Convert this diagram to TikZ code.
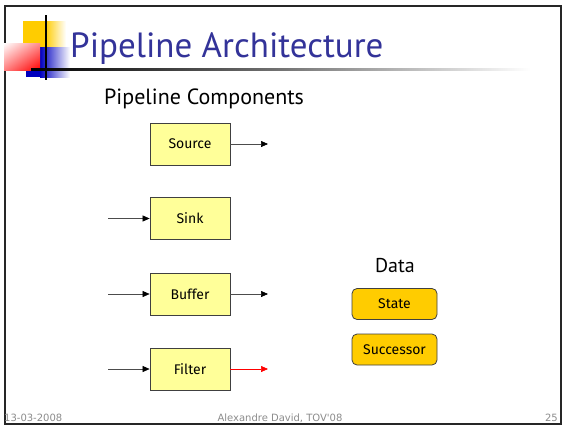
\documentclass[tikz,border=0pt]{standalone}
\usepackage{fontspec}
\setmainfont{PT Sans}
\newfontfamily\boxfont{Fira Sans}
\newfontfamily\footfont{DejaVu Sans}
\usetikzlibrary{arrows.meta,shadings}
\definecolor{titleblue}{HTML}{333399}
\definecolor{compfill}{HTML}{FFFF99}
\definecolor{datafill}{HTML}{FFCC00}
\definecolor{footgray}{HTML}{8C8C8C}
\tikzset{
  comp/.style={draw=black!75, line width=0.8pt, fill=compfill, minimum width=80pt,
    minimum height=42pt, inner sep=0pt, font=\boxfont\fontsize{14}{16}\selectfont},
  datum/.style={draw=black!75, line width=0.8pt, fill=datafill, rounded corners=5pt,
    minimum width=85pt, minimum height=31pt, inner sep=0pt,
    font=\boxfont\fontsize{14}{16}\selectfont},
  flow/.style={draw=black!70, line width=0.6pt, -{Triangle[length=7pt,width=6pt,fill=black,color=black]}},
  footer/.style={text=footgray, font=\footfont\fontsize{10}{12}\selectfont, inner sep=0pt}
}
\begin{document}
\begin{tikzpicture}[x=1pt,y=-1pt]
\useasboundingbox (0,0) rectangle (564,426);
\fill[white] (0,0) rectangle (564,426);
% slide frame
\draw[black!85, line width=2pt] (5,6) rectangle (561,424);
% logo squares (y axis points down, so "lower" corners sit at the top)
\fill[datafill] (23,21) rectangle (45,47);
\shade[left color=datafill, right color=white] (45,21) rectangle (66,47);
\fill[blue!75!black] (26,47) rectangle (40,77);
\shade[left color=blue!75!black, right color=white] (40,47) rectangle (70,77);
\shade[lower right=red, upper left=white, lower left=red!50!white, upper right=red!45!white] (4,43) rectangle (40,70);
\draw[black, line width=1.2pt] (46,15) -- (46,80);
% title rule
\shade[left color=black, right color=white, middle color=black!55] (31,68) rectangle (530,70.5);
% titles
\node[anchor=base west, inner sep=0pt, text=titleblue, font=\fontsize{35}{40}\selectfont] (title) at (70,57) {Pipeline Architecture};
\node[anchor=base west, inner sep=0pt, font=\fontsize{22}{25}\selectfont] (sub) at (104,104) {Pipeline Components};
% components
\node[comp] (source) at (190,144) {Source};
\node[comp] (sink)   at (190,218.5) {Sink};
\node[comp] (buffer) at (190,294) {Buffer};
\node[comp] (filter) at (190,369) {Filter};
\coordinate (sourceout) at (268,144);
\coordinate (sinkin) at (108,218.5);
\coordinate (bufferin) at (108,294);
\coordinate (bufferout) at (268,294);
\coordinate (filterin) at (108,369);
\coordinate (filterout) at (268,369);
\draw[flow] (source.east) -- (sourceout);
\draw[flow] (sinkin) -- (sink.west);
\draw[flow] (bufferin) -- (buffer.west);
\draw[flow] (buffer.east) -- (bufferout);
\draw[flow] (filterin) -- (filter.west);
\draw[flow, draw=red, -{Triangle[length=7pt,width=6pt,fill=red,color=red]}] (filter.east) -- (filterout);
% data
\node[anchor=base, inner sep=0pt, font=\fontsize{20}{23}\selectfont] (data) at (395,272) {Data};
\node[datum] (state) at (394.5,304) {State};
\node[datum] (succ) at (394.5,349.5) {Successor};
% footer
\node[footer, anchor=base west] (date) at (4,421) {13-03-2008};
\node[footer, anchor=base] (author) at (280,421) {Alexandre David, TOV'08};
\node[footer, anchor=base east] (page) at (558,421) {25};
\end{tikzpicture}
\end{document}
